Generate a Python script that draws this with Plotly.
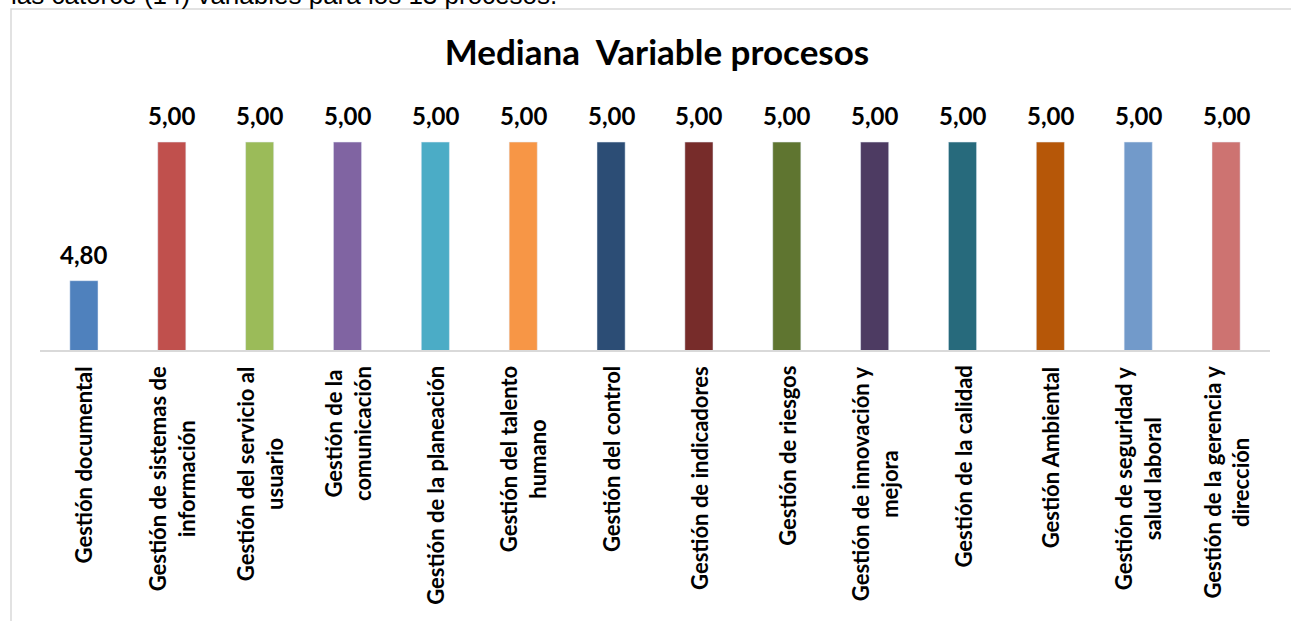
import plotly.graph_objects as go

categories = [
    "Gestión documental", "Gestión de sistemas de información",
    "Gestión del servicio al usuario", "Gestión de la comunicación",
    "Gestión de la planeación", "Gestión del talento humano",
    "Gestión del control", "Gestión de indicadores", "Gestión de riesgos",
    "Gestión de innovación y mejora", "Gestión de la calidad",
    "Gestión Ambiental", "Gestión de seguridad y salud laboral",
    "Gestión de la gerencia y dirección",
]
tick_labels = [
    "Gestión documental", "Gestión de sistemas de<br>información",
    "Gestión del servicio al<br>usuario", "Gestión de la<br>comunicación",
    "Gestión de la planeación", "Gestión del talento<br>humano",
    "Gestión del control", "Gestión de indicadores", "Gestión de riesgos",
    "Gestión de innovación y<br>mejora", "Gestión de la calidad",
    "Gestión Ambiental", "Gestión de seguridad y<br>salud laboral",
    "Gestión de la gerencia y<br>dirección",
]
values = [4.80, 5.00, 5.00, 5.00, 5.00, 5.00, 5.00, 5.00, 5.00, 5.00, 5.00, 5.00, 5.00, 5.00]
colors = ["#4F81BD", "#C0504D", "#9BBB59", "#8064A2", "#4BACC6", "#F79646", "#2C4D75",
          "#772C2A", "#5F7530", "#4D3B62", "#276A7C", "#B65708", "#729ACA", "#CD7371"]
title_text = "Mediana\u00a0 Variable procesos"
top_text = "las catorce (14) variables para los 13 procesos."

W, H = 1291, 621
L, R, T, B = 40, 21, 100, 271
pw, ph = W - L - R, H - T - B

def px_x(x):
    return (x - L) / pw

def px_y(y):
    return (H - B - y) / ph

fig = go.Figure(go.Bar(x=categories, y=values, marker_color=colors, width=0.32))

font = "Lato"
for c, v, t in zip(categories, values, tick_labels):
    fig.add_annotation(x=c, y=v, xref="x", yref="y", text="<b>%s</b>" % f"{v:.2f}".replace(".", ","),
                       showarrow=False, yanchor="bottom", yshift=10,
                       font=dict(family=font, size=24, color="#000"))
    fig.add_annotation(x=c, y=0, xref="x", yref="paper", text="<b>%s</b>" % t,
                       showarrow=False, yanchor="top", yshift=-14, textangle=-90, align="center",
                       font=dict(family=font, size=22, color="#000"))

fig.add_annotation(x=px_x(9), y=px_y(12), xref="paper", yref="paper", xanchor="left", yanchor="bottom",
                   text=top_text, showarrow=False,
                   font=dict(family="Liberation Sans", size=26, color="#000"))

fig.add_shape(type="rect", xref="paper", yref="paper", x0=px_x(11), x1=px_x(1320), y0=px_y(660), y1=px_y(9),
              line=dict(color="#D9D9D9", width=1.5), fillcolor="rgba(0,0,0,0)", layer="below")

fig.update_layout(
    width=W, height=H, margin=dict(l=L, r=R, t=T, b=B),
    paper_bgcolor="white", plot_bgcolor="white", showlegend=False,
    title=dict(text="<b>%s</b>" % title_text, x=px_x(657), xanchor="center", xref="paper",
               y=1 - 53 / H, yanchor="middle", font=dict(family=font, size=35, color="#000")),
    xaxis=dict(showticklabels=False, showline=True, linecolor="#D9D9D9", linewidth=2,
               showgrid=False, ticks="", fixedrange=True),
    yaxis=dict(range=[4.7, 5.0607], visible=False, showgrid=False, fixedrange=True),
)

fig.write_html("out.html", post_script="document.body.style.margin='0';",
               config={"displayModeBar": False})
